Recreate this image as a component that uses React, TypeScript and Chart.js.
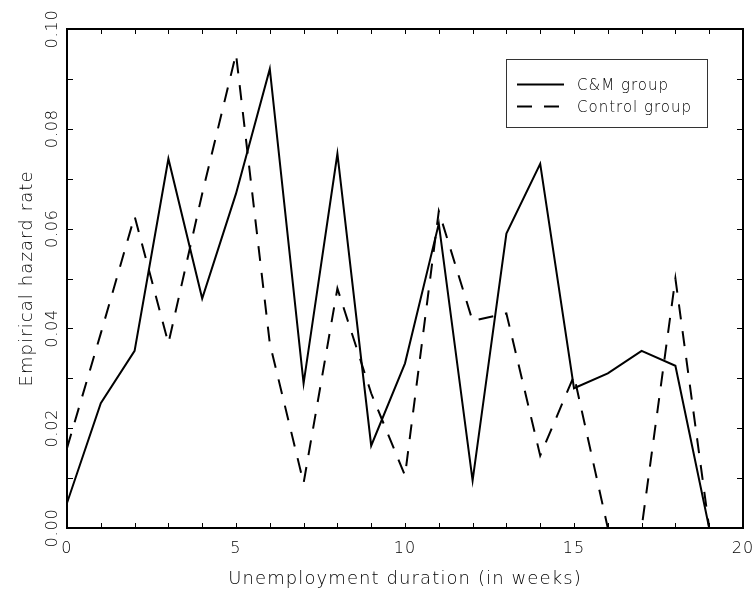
import React, { useEffect, useRef } from 'react';
import { Chart, registerables } from 'chart.js';

Chart.register(...registerables);

const weeks = [0, 1, 2, 3, 4, 5, 6, 7, 8, 9, 10, 11, 12, 13, 14, 15, 16, 17, 18, 19, 20];
const cmGroup = [0.005, 0.025, 0.0355, 0.074, 0.046, 0.067, 0.092, 0.029, 0.075, 0.0165, 0.033, 0.061, 0.0095, 0.059, 0.073, 0.028, 0.031, 0.0355, 0.0325, 0, 0];
const controlGroup = [0.016, 0.039, 0.0625, 0.037, 0.067, 0.095, 0.037, 0.009, 0.048, 0.027, 0.0105, 0.0635, 0.0415, 0.043, 0.0145, 0.0305, 0, 0, 0.05, 0, 0];
const seriesNames = ['C&M group', 'Control group'];
const xMinorTicks = [0, 1, 2, 3, 4, 5, 6, 7, 8, 9, 10, 11, 12, 13, 14, 15, 16, 17, 18, 19, 20];
const yMinorTicks = [0, 0.01, 0.02, 0.03, 0.04, 0.05, 0.06, 0.07, 0.08, 0.09, 0.1];
const xTitle = 'Unemployment duration (in weeks)';
const yTitle = 'Empirical hazard rate';

const FONT = "'DejaVu Sans', sans-serif";

const spacingPlugin = {
  id: 'spacing',
  beforeDraw(chart: any) {
    chart.ctx.letterSpacing = '1.1px';
  },
};

const framePlugin = {
  id: 'frame',
  afterDatasetsDraw(chart: any) {
    const { ctx, chartArea, scales } = chart;
    const { left, right, top, bottom } = chartArea;
    const xs = scales.x;
    const ys = scales.y;
    ctx.save();
    ctx.strokeStyle = '#000';
    ctx.lineWidth = 2;
    ctx.setLineDash([]);
    ctx.strokeRect(left, top, right - left, bottom - top);
    ctx.lineWidth = 1;
    ctx.beginPath();
    xMinorTicks.forEach((v) => {
      const px = Math.round(xs.getPixelForValue(v)) + 0.5;
      ctx.moveTo(px, bottom);
      ctx.lineTo(px, bottom - 5);
      ctx.moveTo(px, top);
      ctx.lineTo(px, top + 5);
    });
    yMinorTicks.forEach((v) => {
      const py = Math.round(ys.getPixelForValue(v)) + 0.5;
      ctx.moveTo(left, py);
      ctx.lineTo(left + 6, py);
      ctx.moveTo(right, py);
      ctx.lineTo(right - 6, py);
    });
    ctx.stroke();

    // rotated y tick labels
    ctx.fillStyle = '#000';
    ctx.letterSpacing = '0.8px';
    ctx.font = `200 16px ${FONT}`;
    ctx.textAlign = 'center';
    ctx.textBaseline = 'middle';
    ys.ticks.forEach((t: any) => {
      const py = ys.getPixelForValue(t.value);
      ctx.save();
      ctx.translate(left - 14, py);
      ctx.rotate(-Math.PI / 2);
      ctx.fillText(Number(t.value).toFixed(2), 0, 0);
      ctx.restore();
    });

    // legend
    const bx = 506.5, by = 59.5, bw = 201, bh = 68;
    ctx.lineWidth = 1;
    ctx.strokeStyle = '#333';
    ctx.strokeRect(bx, by, bw, bh);
    const dsets = chart.data.datasets;
    const rows = [84.5, 106.5];
    ctx.letterSpacing = '1px';
    ctx.font = `200 15px ${FONT}`;
    ctx.textAlign = 'left';
    ctx.textBaseline = 'alphabetic';
    dsets.forEach((ds: any, i: number) => {
      ctx.strokeStyle = '#000';
      ctx.lineWidth = 2;
      ctx.setLineDash(ds.borderDash || []);
      ctx.beginPath();
      ctx.moveTo(517, rows[i]);
      ctx.lineTo(564, rows[i]);
      ctx.stroke();
      ctx.setLineDash([]);
      ctx.fillText(ds.label, 577, rows[i] + 5);
    });
    ctx.restore();
  },
};

export default function App() {
  const ref = useRef<HTMLCanvasElement | null>(null);
  useEffect(() => {
    if (!ref.current) return;
    const chart = new Chart(ref.current, {
      type: 'line',
      data: {
        datasets: [
          {
            label: seriesNames[0],
            data: weeks.map((w, i) => ({ x: w, y: cmGroup[i] })),
            borderColor: '#000',
            borderWidth: 2,
            pointRadius: 0,
            tension: 0,
            fill: false,
          },
          {
            label: seriesNames[1],
            data: weeks.map((w, i) => ({ x: w, y: controlGroup[i] })),
            borderColor: '#000',
            borderWidth: 2,
            borderDash: [15, 12],
            pointRadius: 0,
            tension: 0,
            fill: false,
          },
        ],
      },
      options: {
        responsive: false,
        animation: false,
        layout: { padding: { top: 29, right: 12, left: 0, bottom: 0 } },
        plugins: { legend: { display: false }, tooltip: { enabled: false } },
        scales: {
          x: {
            type: 'linear',
            min: 0,
            max: 20,
            ticks: { stepSize: 5, color: '#000', font: { family: FONT, size: 16, weight: 200 }, padding: 3, maxRotation: 0 },
            grid: { display: false },
            border: { display: false },
            title: { display: true, text: xTitle, color: '#000', font: { family: FONT, size: 18, weight: 200 }, padding: { top: 0, bottom: 1 } },
            afterFit: (s: any) => { s.height = 63; s.paddingLeft = 0; s.paddingRight = 0; },
          },
          y: {
            type: 'linear',
            min: 0,
            max: 0.1,
            ticks: { stepSize: 0.02, display: false },
            grid: { display: false },
            border: { display: false },
            title: { display: true, text: yTitle, color: '#000', font: { family: FONT, size: 18, weight: 200 }, padding: { top: 17, bottom: 0 } },
            afterFit: (s: any) => { s.width = 67; s.paddingTop = 0; s.paddingBottom = 0; },
          },
        },
      } as any,
      plugins: [spacingPlugin, framePlugin],
    });
    return () => chart.destroy();
  }, []);
  return (
    <div style={{ position: 'absolute', left: 0, top: 0, width: 755, height: 591, background: '#fff' }}>
      <canvas ref={ref} width={755} height={591} />
    </div>
  );
}
